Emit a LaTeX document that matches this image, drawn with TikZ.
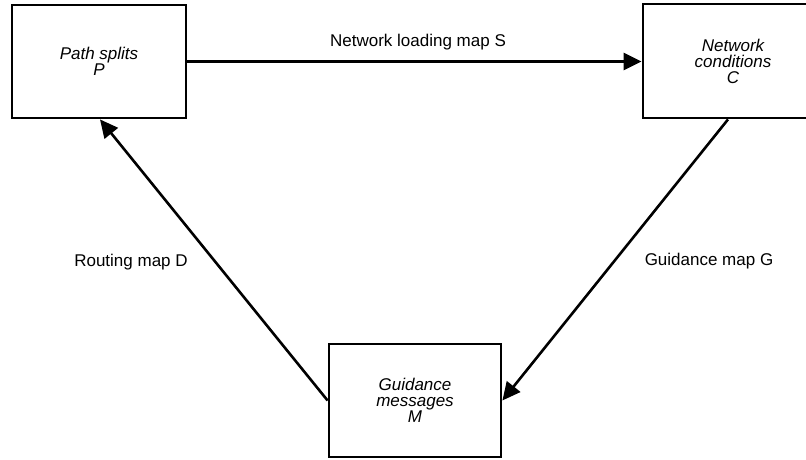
\documentclass[tikz,border=0pt]{standalone}
\usepackage{fontspec}
\setmainfont{Liberation Sans}
\usetikzlibrary{arrows.meta}
\begin{document}
\begin{tikzpicture}[x=1pt,y=-1pt,
  boxnode/.style={draw=black, line width=2.8pt, inner sep=0pt, align=center,
    font=\itshape\fontsize{17}{16}\selectfont},
  conn/.style={line width=2.6pt, -{Triangle[length=18pt,width=17pt]}},
  lbl/.style={font=\fontsize{17}{20}\selectfont, inner sep=0pt}]
\useasboundingbox (0,0) rectangle (806,459);
\clip (0,0) rectangle (806,459);
\node[boxnode, minimum width=174pt, minimum height=113pt,
  font=\itshape\fontsize{17}{12}\selectfont] (P) at (99,61.5) {Path splits\\P};
\node[boxnode, minimum width=180pt, minimum height=114pt] (C) at (733,61) {Network\\conditions\\C};
\node[boxnode, minimum width=172pt, minimum height=113pt] (M) at (415,400.5) {Guidance\\messages\\M};
\draw[conn] (P.east) -- (P.east -| C.west);
\draw[conn] ([xshift=-5pt]C.south) -- (M.east);
\draw[conn] (M.west) -- ([xshift=1pt]P.south);
\node[lbl] (S) at (418,42) {Network loading map S};
\node[lbl] (D) at (131,262) {Routing map D};
\node[lbl] (G) at (709,261) {Guidance map G};
\end{tikzpicture}
\end{document}
